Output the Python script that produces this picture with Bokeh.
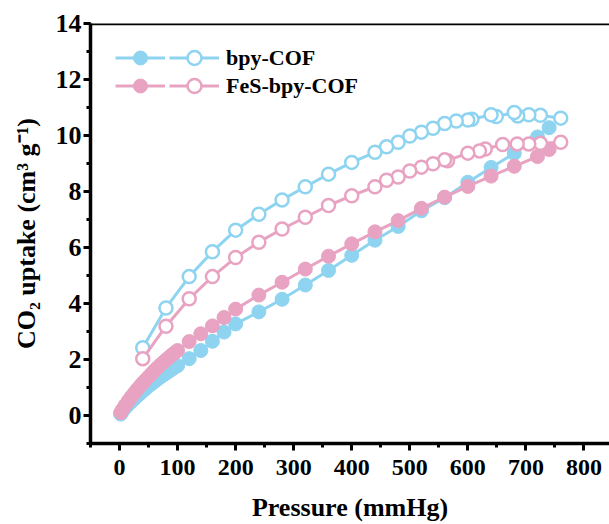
from bokeh.plotting import figure
from bokeh.models import (Range1d, SingleIntervalTicker, Span, Legend, LegendItem)
from bokeh.embed import file_html
from bokeh.resources import INLINE

# ---------------- data ----------------
p_ads = [2, 5, 10, 15, 20, 25, 30, 35, 40, 45, 50, 55, 60, 65, 70, 75, 80, 85, 90, 95, 100,
         120, 140, 160, 180, 200, 240, 280, 320, 360, 400, 440, 480, 520, 560, 600, 640, 680, 720, 740]
bpy_ads = [0.05, 0.15, 0.28, 0.39, 0.49, 0.59, 0.69, 0.78, 0.87, 0.96, 1.05, 1.13, 1.21, 1.29, 1.37,
           1.44, 1.51, 1.58, 1.65, 1.72, 1.78,
           2.03, 2.32, 2.65, 2.98, 3.27, 3.70, 4.15, 4.66, 5.18, 5.72, 6.26, 6.75, 7.31, 7.78,
           8.33, 8.86, 9.36, 9.95, 10.28]
fes_ads = [0.10, 0.21, 0.37, 0.52, 0.66, 0.79, 0.92, 1.04, 1.16, 1.27, 1.38, 1.49, 1.60, 1.70, 1.80,
           1.89, 1.98, 2.07, 2.16, 2.24, 2.32,
           2.64, 2.92, 3.20, 3.50, 3.80, 4.30, 4.76, 5.23, 5.69, 6.13, 6.56, 6.96, 7.40, 7.80,
           8.18, 8.55, 8.90, 9.25, 9.50]

p_des_bpy = [760, 725, 705, 686, 680, 649, 640, 607, 600, 580, 560, 540, 520, 500, 480, 460, 440,
             400, 360, 320, 280, 240, 200, 160, 120, 80, 40]
bpy_des = [10.62, 10.72, 10.74, 10.70, 10.82, 10.68, 10.74, 10.58, 10.55, 10.52, 10.43, 10.26, 10.12,
           9.98, 9.76, 9.60, 9.40, 9.04, 8.62, 8.17, 7.70, 7.19, 6.62, 5.85, 4.96, 3.84, 2.42]

p_des_fes = [760, 725, 705, 685, 660, 630, 620, 600, 565, 560, 540, 520, 500, 480, 460, 440,
             400, 360, 320, 280, 240, 200, 160, 120, 80, 40]
fes_des = [9.76, 9.72, 9.70, 9.70, 9.68, 9.52, 9.45, 9.37, 9.10, 9.13, 8.99, 8.87, 8.73, 8.52, 8.40,
           8.17, 7.85, 7.50, 7.08, 6.66, 6.19, 5.64, 4.96, 4.17, 3.19, 2.03]

labels = ["bpy-COF", "FeS-bpy-COF"]
X_MIN, X_MAX = -50, 844
Y_MIN, Y_MAX = -1, 14

BLUE = "#8ED4F1"
PINK = "#E9A3C2"
FONT = "'Liberation Serif', 'Times New Roman', serif"

# ---------------- figure ----------------
p = figure(width=609, height=524, output_backend="svg", toolbar_location=None,
           x_range=Range1d(X_MIN, X_MAX), y_range=Range1d(Y_MIN, Y_MAX),
           min_border_left=90, min_border_top=23, min_border_bottom=80, min_border_right=0)
p.outline_line_color = None
p.grid.visible = False
p.background_fill_color = "white"

p.xaxis.ticker = SingleIntervalTicker(interval=100, num_minor_ticks=2)
p.yaxis.ticker = SingleIntervalTicker(interval=2, num_minor_ticks=2)
for ax in (p.xaxis, p.yaxis):
    ax.axis_line_width = 3.5
    ax.axis_line_color = "black"
    ax.major_tick_line_width = 3
    ax.minor_tick_line_width = 3
    ax.major_tick_in = 0
    ax.major_tick_out = 7
    ax.minor_tick_in = 0
    ax.minor_tick_out = 4
    ax.major_label_text_font = FONT
    ax.major_label_text_font_style = "bold"
    ax.major_label_text_color = "black"
    ax.axis_label_text_font = FONT
    ax.axis_label_text_font_style = "bold"
    ax.axis_label_text_font_size = "26px"
    ax.axis_label_text_color = "black"

p.xaxis.major_label_text_font_size = "24px"
p.yaxis.major_label_text_font_size = "26px"
p.xaxis.major_label_standoff = 9
p.yaxis.major_label_standoff = 2
p.xaxis.axis_label = "Pressure (mmHg)"
p.yaxis.axis_label = "CO\u2082 uptake (cm\u00b3 g\u207b\u00b9)"
p.xaxis.axis_label_standoff = 15
p.yaxis.axis_label_standoff = 12

p.add_layout(Span(location=Y_MAX, dimension="width", line_color="black", line_width=3.5))

# ---------------- series ----------------
lb1 = p.line(p_ads, bpy_ads, line_color=BLUE, line_width=3)
sb1 = p.scatter(p_ads, bpy_ads, size=14, fill_color=BLUE, line_color=BLUE)
lf1 = p.line(p_ads, fes_ads, line_color=PINK, line_width=3)
sf1 = p.scatter(p_ads, fes_ads, size=14, fill_color=PINK, line_color=PINK)

lb2 = p.line(p_des_bpy, bpy_des, line_color=BLUE, line_width=3)
sb2 = p.scatter(p_des_bpy, bpy_des, size=13, fill_color="white", line_color=BLUE, line_width=2.5)
lf2 = p.line(p_des_fes, fes_des, line_color=PINK, line_width=3)
sf2 = p.scatter(p_des_fes, fes_des, size=13, fill_color="white", line_color=PINK, line_width=2.5)

# ---------------- legend (one small legend per row and per marker style) ----------------
common = dict(glyph_width=50, glyph_height=35, label_height=35, spacing=0, padding=0, margin=0,
              border_line_color=None, background_fill_alpha=0,
              label_text_font=FONT, label_text_font_style="bold", label_text_font_size="22px",
              label_text_color="black")

row_y = [368, 340]
ads_r = [[lb1, sb1], [lf1, sf1]]
des_r = [[lb2, sb2], [lf2, sf2]]
for i in range(2):
    p.add_layout(Legend(items=[LegendItem(label=" ", renderers=ads_r[i])],
                        location=(25, row_y[i]), label_standoff=0, **common))
    p.add_layout(Legend(items=[LegendItem(label=labels[i], renderers=des_r[i])],
                        location=(79, row_y[i]), label_standoff=7, **common))

open("out.html", "w").write(file_html(p, INLINE))
